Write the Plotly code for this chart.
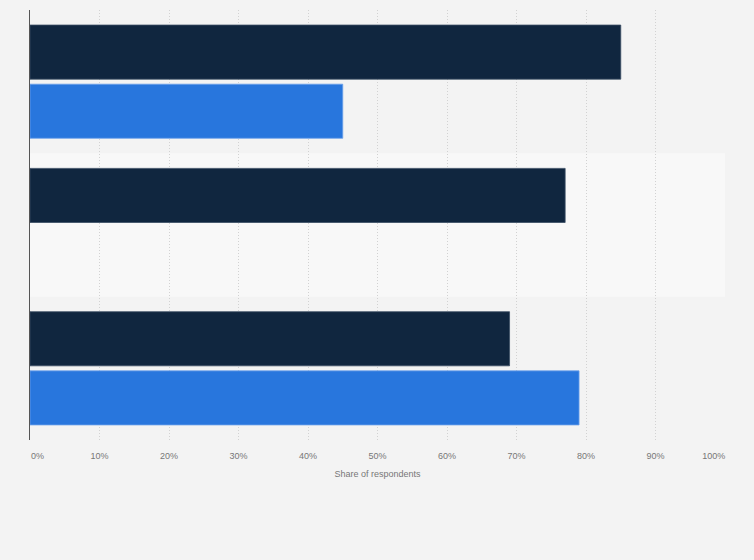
import plotly.graph_objects as go

categories = ["Group A", "Group B", "Group C"]
series_1 = [85, 77, 69]
series_2 = [45, None, 79]
tick_vals = [0, 10, 20, 30, 40, 50, 60, 70, 80, 90, 100]
tick_text = [f"{v}%" for v in tick_vals]

# first/last labels sit inside the plot edges, as in the reference
NB = "\u00a0"
display_ticks = list(tick_text)
display_ticks[0] = NB * 6 + display_ticks[0]
display_ticks[-1] = display_ticks[-1] + NB * 9

fig = go.Figure()
fig.add_trace(go.Bar(y=categories, x=series_1, orientation="h", name="Series 1",
                     marker=dict(color="#10263f", line=dict(color="#3a4d63", width=0.8))))
fig.add_trace(go.Bar(y=categories, x=series_2, orientation="h", name="Series 2",
                     marker=dict(color="#2876dd", line=dict(color="#6aa0ea", width=0.8))))

fig.add_shape(type="rect", xref="paper", yref="y", x0=0, x1=1, y0=0.5, y1=1.5,
              fillcolor="#f8f8f8", line=dict(width=0), layer="below")

fig.update_layout(
    width=754, height=560,
    margin=dict(l=30, r=29, t=10, b=120, autoexpand=False),
    paper_bgcolor="#f3f3f3", plot_bgcolor="#f3f3f3",
    barmode="group", bargap=0.175, bargroupgap=0.085,
    showlegend=False,
    font=dict(family="Liberation Sans, Arial, sans-serif", color="#777777", size=9),
    xaxis=dict(range=[0, 100], tickvals=tick_vals, ticktext=display_ticks,
               automargin=False,
               showgrid=True, gridcolor="#d2d2d2", griddash="1px,2px", gridwidth=1,
               zeroline=False, ticks="", ticklabelstandoff=9,
               tickfont=dict(size=9, color="#777777"),
               title=dict(text="Share of respondents", font=dict(size=9, color="#777777"), standoff=10)),
    yaxis=dict(autorange="reversed", showticklabels=False, showgrid=False, automargin=False,
               showline=True, linecolor="#555555", linewidth=1, zeroline=False, ticks=""),
)

fig.write_html("out.html", config={"displayModeBar": False},
               post_script="document.body.style.margin='0';document.body.style.background='#f3f3f3';")
